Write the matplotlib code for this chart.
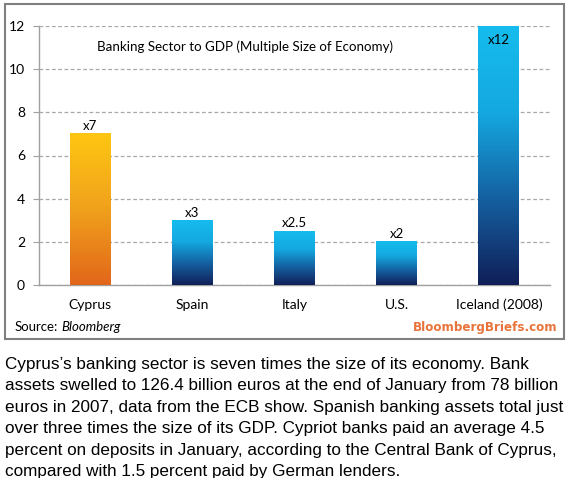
import matplotlib
matplotlib.use("Agg")
import matplotlib.pyplot as plt
import numpy as np
from matplotlib.colors import LinearSegmentedColormap
from matplotlib.patches import Rectangle

categories = ["Cyprus", "Spain", "Italy", "U.S.", "Iceland (2008)"]
values = [7, 3, 2.5, 2, 12]
value_labels = ["x7", "x3", "x2.5", "x2", "x12"]
yticks = [0, 2, 4, 6, 8, 10, 12]

title = "Banking Sector to GDP (Multiple Size of Economy)"
body = ("Cyprus\u2019s banking sector is seven times the size of its economy. Bank\n"
        "assets swelled to 126.4 billion euros at the end of January from 78 billion\n"
        "euros in 2007, data from the ECB show. Spanish banking assets total just\n"
        "over three times the size of its GDP. Cypriot banks paid an average 4.5\n"
        "percent on deposits in January, according to the Central Bank of Cyprus,\n"
        "compared with 1.5 percent paid by German lenders.")

chart_font = "Lato"
fig = plt.figure(figsize=(5.75, 4.78), dpi=100)
ax = fig.add_axes([39/575, 1-285/478, (550-39)/575, (285-26)/478])

orange_cmap = LinearSegmentedColormap.from_list("o", ["#E2661A", "#F0A11C", "#FFC612"])
blue_cmap = LinearSegmentedColormap.from_list("b", ["#101F58", "#1560A0", "#14A8E0", "#16BCEE"])

x = np.arange(len(categories))
bars = ax.bar(x, values, width=0.4, color="none", edgecolor="none", zorder=3)
grad = np.linspace(0, 1, 256).reshape(-1, 1)
for i, b in enumerate(bars):
    cmap = orange_cmap if i == 0 else blue_cmap
    x0, w, h = b.get_x(), b.get_width(), b.get_height()
    ax.imshow(grad, cmap=cmap, origin="lower", aspect="auto",
              extent=(x0, x0 + w, 0, h), zorder=3, interpolation="bilinear")

ax.set_xlim(-0.5, len(categories) - 0.5)
ax.set_ylim(0, 12)
ax.set_yticks(yticks)
ax.set_yticklabels([str(t) for t in yticks], fontsize=10, family=chart_font)
ax.set_xticks(x)
ax.set_xticklabels(categories, fontsize=10, family=chart_font)
ax.tick_params(axis="x", length=0, pad=10)
ax.tick_params(axis="y", length=4, color="#A0A0A0", pad=6)
ax.yaxis.grid(True, linestyle=(0, (3, 2)), color="#A8A8A8", linewidth=0.9, zorder=0)
ax.set_axisbelow(True)
for s in ["top", "right"]:
    ax.spines[s].set_visible(False)
ax.spines["left"].set_color("#A0A0A0")
ax.spines["bottom"].set_color("#A0A0A0")
ax.spines["left"].set_linewidth(1.0)
ax.spines["bottom"].set_linewidth(1.0)

for i, (v, lab) in enumerate(zip(values, value_labels)):
    if v >= 12:
        ax.text(i, v - 0.35, lab, ha="center", va="top", fontsize=9.5, family=chart_font, zorder=5)
    else:
        ax.text(i, v + 0.08, lab, ha="center", va="bottom", fontsize=9.5, family=chart_font, zorder=5)

fig.text(97/575, 1-47/478, title, ha="left", va="center", fontsize=9.6, family=chart_font)

fig.text(15/575, 1-327/478, "Source:", ha="left", va="center", fontsize=9.5, family=chart_font)
fig.text(61/575, 1-327/478, "Bloomberg", ha="left", va="center", fontsize=9.5,
         family=chart_font, style="italic")
fig.text(558/575, 1-328/478, "BloombergBriefs.com", ha="right", va="center", fontsize=8.6,
         family="DejaVu Sans", color="#E8743B", fontweight="bold")

fig.patches.append(Rectangle((5/575, 1-339/478), (564-5)/575, (339-4)/478,
                             transform=fig.transFigure, fill=False,
                             edgecolor="#7F7F7F", linewidth=1.5))

fig.text(5/575, 1-357/478, body, ha="left", va="top", fontsize=12.3,
         family="Liberation Sans", linespacing=1.54)

fig.savefig("out.png", dpi=100)
